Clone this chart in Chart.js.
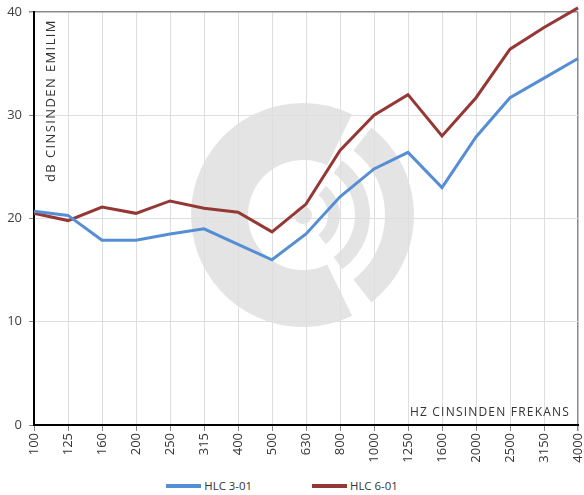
<!DOCTYPE html>
<html>
<head>
<meta charset="utf-8">
<script src="https://cdn.jsdelivr.net/npm/chart.js@4"></script>
<style>
  body { margin: 0; background: #fff; font-family: "Open Sans", sans-serif; }
  #wrap { position: relative; width: 584px; height: 472px; }
  #legend { position: absolute; left: -10px; top: 478px; width: 584px; display: flex; justify-content: center; font-size: 11.4px; color: #333; }
  .item { display: flex; align-items: center; margin: 0 30px; }
  .swatch { width: 35px; height: 4px; margin-right: 3px; }
</style>
</head>
<body>
<div id="wrap"><canvas id="grafico" width="584" height="472"></canvas></div>
<div id="legend"></div>
<script>
const frekans = ["100", "125", "160", "200", "250", "315", "400", "500", "630", "800", "1000", "1250", "1600", "2000", "2500", "3150", "4000"];
const hlc301 = [20.7, 20.3, 17.9, 17.9, 18.5, 19.0, 17.5, 16.0, 18.5, 22.1, 24.8, 26.4, 23.0, 27.9, 31.7, 33.6, 35.5];
const hlc601 = [20.5, 19.8, 21.1, 20.5, 21.7, 21.0, 20.6, 18.7, 21.4, 26.6, 30.0, 32.0, 28.0, 31.7, 36.4, 38.5, 40.4];
const seriler = ["HLC 3-01", "HLC 6-01"];
const renkler = ["#558ED5", "#953735"];

// filigran + eksen basliklari
const arkaPlan = {
  id: "arkaPlan",
  beforeDraw(chart) {
    const ctx = chart.ctx;
    const cx = 303, cy = 215;
    const d = Math.PI / 180;
    ctx.save();
    ctx.fillStyle = "#e4e4e4";
    // C seklindeki halka
    ctx.beginPath();
    ctx.arc(cx, cy, 112, 64 * d, 296 * d);
    ctx.arc(cx, cy, 55, 296 * d, 64 * d, true);
    ctx.closePath();
    ctx.fill();
    // ses dalgalari
    const yaylar = [[82, 111, 52], [52, 67, 54], [25, 37, 52]];
    yaylar.forEach(([r1, r2, aci]) => {
      ctx.beginPath();
      ctx.arc(cx, cy, r2, -aci * d, aci * d);
      ctx.arc(cx, cy, r1, aci * d, -aci * d, true);
      ctx.closePath();
      ctx.fill();
    });
    ctx.beginPath();
    ctx.arc(cx, cy, 9, 0, Math.PI * 2);
    ctx.fill();
    ctx.restore();
  },
  afterDatasetsDraw(chart) {
    const ctx = chart.ctx;
    const a = chart.chartArea;
    ctx.save();
    ctx.fillStyle = "#333";
    ctx.font = "12px 'Open Sans'";
    if ("letterSpacing" in ctx) ctx.letterSpacing = "1.2px";
    ctx.textBaseline = "alphabetic";
    ctx.textAlign = "right";
    ctx.fillText("HZ CINSINDEN FREKANS", a.right - 8, a.bottom - 9);
    ctx.font = "13px 'Open Sans'";
    if ("letterSpacing" in ctx) ctx.letterSpacing = "1.4px";
    ctx.translate(a.left + 21, a.top + 170);
    ctx.rotate(-Math.PI / 2);
    ctx.textAlign = "left";
    ctx.fillText("dB CINSINDEN EMILIM", 0, 0);
    ctx.restore();
  }
};

const ctx = document.getElementById("grafico").getContext("2d");
let myChart = new Chart(ctx, {
  type: "line",
  data: {
    labels: frekans,
    datasets: [
      {
        label: seriler[0],
        data: hlc301,
        borderColor: renkler[0],
        backgroundColor: renkler[0],
        borderWidth: 3,
        pointRadius: 0,
        clip: false,
      },
      {
        label: seriler[1],
        data: hlc601,
        borderColor: renkler[1],
        backgroundColor: renkler[1],
        borderWidth: 3,
        pointRadius: 0,
        clip: false,
      },
    ],
  },
  options: {
    responsive: false,
    animation: false,
    layout: { padding: { top: 12, right: 6, left: 0, bottom: 0 } },
    plugins: {
      legend: { display: false },
      tooltip: { enabled: false },
    },
    scales: {
      x: {
        offset: false,
        afterFit: (s) => { s.height = 47; s.paddingRight = 0; s.paddingLeft = 0; },
        ticks: { minRotation: 90, maxRotation: 90, autoSkip: false, color: "#333", font: { family: "Open Sans", size: 13 }, padding: 2 },
        grid: {
          color: (c) => (c.index === frekans.length - 1 ? "#8a8a8a" : "#dedede"),
          tickColor: "#8a8a8a",
          tickLength: 6,
          lineWidth: (c) => (c.index === frekans.length - 1 ? 1.5 : 1),
        },
        border: { color: "#000", width: 2 },
      },
      y: {
        min: 0,
        max: 40,
        afterFit: (s) => { s.width = 34; s.paddingTop = 0; s.paddingBottom = 0; },
        ticks: { stepSize: 10, color: "#404040", font: { family: "Open Sans", size: 13 }, padding: 7 },
        grid: {
          color: (c) => (c.tick.value === 40 ? "#8a8a8a" : "#dedede"),
          lineWidth: (c) => (c.tick.value === 40 ? 1.5 : 1),
          tickColor: "#8a8a8a",
          tickLength: 5,
        },
        border: { color: "#000", width: 2 },
      },
    },
  },
  plugins: [arkaPlan],
});

// alt lejant
const lejant = document.getElementById("legend");
seriler.forEach((ad, i) => {
  const el = document.createElement("div");
  el.className = "item";
  el.innerHTML = '<span class="swatch" style="background:' + renkler[i] + '"></span>' + ad;
  lejant.appendChild(el);
});
</script>
</body>
</html>
